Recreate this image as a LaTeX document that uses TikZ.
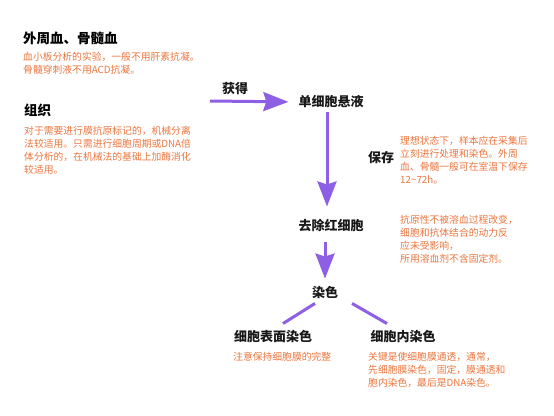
\documentclass[tikz,border=0pt]{standalone}
\usepackage{fontspec}
\setmainfont{Noto Sans CJK SC}
\usetikzlibrary{arrows.meta}
\definecolor{arrowpurple}{RGB}{140,95,228}
\definecolor{noteorange}{RGB}{236,118,62}
\tikzset{
  titletext/.style={inner sep=0pt, font=\fontsize{13.5}{16}\selectfont\bfseries, text=black},
  steptext/.style={inner sep=0pt, font=\fontsize{13}{16}\selectfont\bfseries, text=black!90},
  notetext/.style={inner sep=0pt, align=left, font=\fontsize{9.8}{13}\selectfont, text=noteorange},
  flow/.style={draw=arrowpurple, line width=3pt, -{Stealth[length=25pt,width=19pt,inset=3pt]}},
  branch/.style={draw=arrowpurple, line width=3pt},
}
\begin{document}
\begin{tikzpicture}[x=1pt,y=-1pt]
\useasboundingbox[fill=white] (0,0) rectangle (554,415);
% left column
\node[titletext, anchor=west] (t1) at (23,38) {外周血、骨髓血};
\node[notetext, anchor=west] (d1) at (23,63.5) {血小板分析的实验，一般不用肝素抗凝。\\骨髓穿刺液不用ACD抗凝。};
\node[titletext, anchor=west] (t2) at (24,110) {组织};
\node[notetext, anchor=west] (d2) at (24,150.5) {对于需要进行膜抗原标记的，机械分离\\法较适用。只需进行细胞周期或DNA倍\\体分析的，在机械法的基础上加酶消化\\较适用。};
% flow
\coordinate (start) at (210,101);
\node[steptext] (get) at (235,89) {获得};
\node[steptext] (n1) at (331,102) {单细胞悬液};
\node[steptext] (n2) at (331,225) {去除红细胞};
\node[steptext] (n3) at (325,292) {染色};
\node[steptext] (n4) at (273,337) {细胞表面染色};
\node[steptext] (n5) at (403,337) {细胞内染色};
\node[steptext] (keep) at (381,158) {保存};
\node[notetext, anchor=west] (d3) at (400,160) {理想状态下，样本应在采集后\\立刻进行处理和染色。外周\\血、骨髓一般可在室温下保存\\12\textasciitilde72h。};
\node[notetext, anchor=west] (d4) at (400,239) {抗原性不被溶血过程改变，\\细胞和抗体结合的动力反\\应未受影响，\\所用溶血剂不含固定剂。};
\node[notetext, anchor=west] (d5) at (233,357) {注意保持细胞膜的完整};
\node[notetext, anchor=west] (d6) at (368,370) {关键是使细胞膜通透，通常，\\先细胞膜染色，固定，膜通透和\\胞内染色，最后是DNA染色。};
% connectors
\draw[flow, shorten >=10pt] (start) -- (n1.west);
\draw[flow, shorten <=4pt, shorten >=12pt] ([xshift=-4pt]n1.south) -- ([xshift=-4pt]n2.north);
\draw[flow, shorten <=10pt, shorten >=7pt] ([xshift=-6pt]n2.south) -- (n3.north);
\draw[branch] ([xshift=-10pt,yshift=-5pt]n3.south) -- ([xshift=10pt,yshift=7pt]n4.north);
\draw[branch] ([xshift=27pt,yshift=-5pt]n3.south) -- ([xshift=-16pt,yshift=7pt]n5.north);
\end{tikzpicture}
\end{document}
